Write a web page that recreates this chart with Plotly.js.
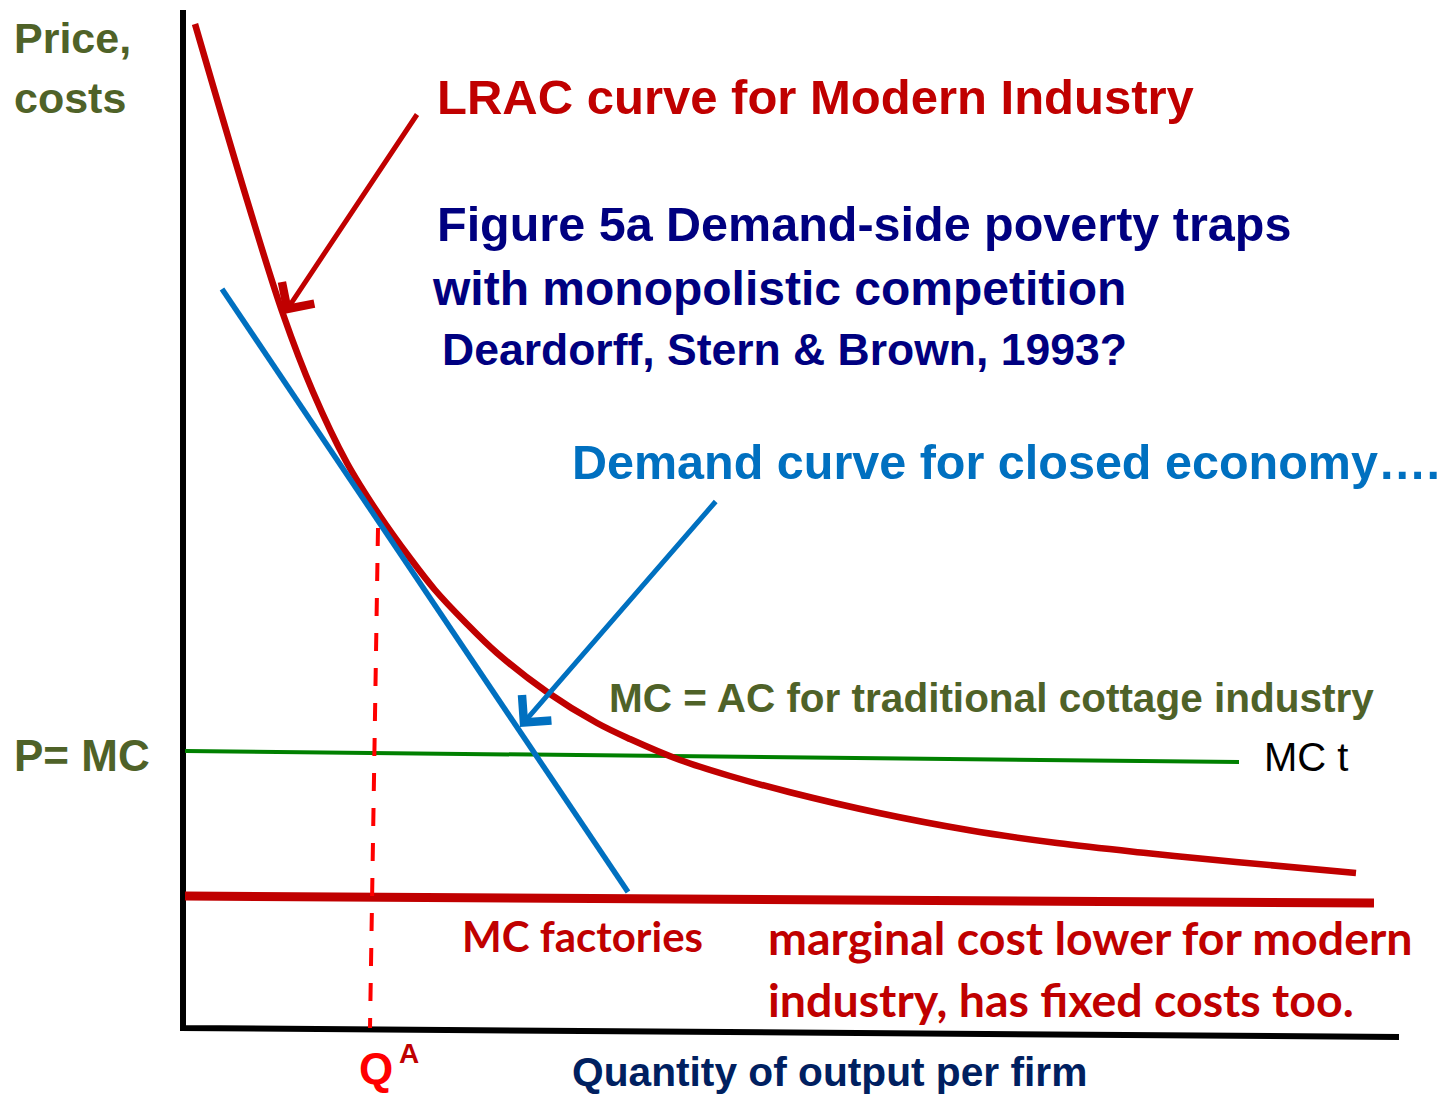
<!DOCTYPE html>
<html>
<head>
<meta charset="utf-8">
<script src="https://cdn.plot.ly/plotly-3.0.1.min.js"></script>
<style>
html,body{margin:0;padding:0;background:#fff;}
#chart{width:1441px;height:1095px;}
</style>
</head>
<body>
<div id="chart"></div>
<script>
// Diagram units: quantity (q) along the horizontal axis, price/cost (p) vertical
// Long-run average cost curve of the modern industry
const lracQ = [1.2, 6.4, 10.0, 13.0, 16.4, 19.7, 22.7, 25.2, 28.2, 31.4, 36.4, 41.4, 44.7, 49.7, 54.7, 60.6, 69.6, 78.5, 87.4, 96.3, 105.3, 117.3];
const lracP = [100.4, 82.8, 71.4, 63.6, 56.5, 51.2, 47.0, 43.8, 40.6, 37.5, 33.6, 30.5, 28.9, 26.8, 25.2, 23.6, 21.5, 19.8, 18.5, 17.5, 16.6, 15.5];
// Demand curve for closed economy
const demandQ = [3.9, 44.5];
const demandP = [73.9, 13.6];
// MC = AC for traditional cottage industry (MC t)
const mctQ = [0.2, 105.6];
const mctP = [27.7, 26.6];
// MC factories
const mcfQ = [0.2, 119.1];
const mcfP = [13.2, 12.5];
// Q^A dashed drop line
const qaQ = [19.5, 18.7];
const qaP = [50.0, 0.0];
// Axes
const axisQ = [0.0, 0.0, 121.6];
const axisP = [101.8, 0.0, -0.9];
// Arrows (tail -> tip)
const lracArrowTail = [23.5, 91.5];
const lracArrowTip = [10.1, 71.4];
const demandArrowTail = [53.4, 52.8];
const demandArrowTip = [33.7, 30.1];

const RED = '#C00000', BLUE = '#0070C0', OLIVE = '#4F6228', NAVY = '#000080';
const ARIAL = 'Liberation Sans, Arial, sans-serif';
const CAL = 'Lato, Carlito, Calibri, sans-serif';

const traces = [
  {x: axisQ, y: axisP, mode: 'lines', line: {color: '#000', width: 6}},
  {x: mctQ, y: mctP, mode: 'lines', line: {color: '#008000', width: 4}},
  {x: mcfQ, y: mcfP, mode: 'lines', line: {color: RED, width: 9}},
  {x: lracQ, y: lracP, mode: 'lines', line: {color: RED, width: 6.5, shape: 'spline', smoothing: 1}},
  {x: demandQ, y: demandP, mode: 'lines', line: {color: BLUE, width: 5.5}},
  {x: qaQ, y: qaP, mode: 'lines', line: {color: '#FF0000', width: 4, dash: '18px,17px'}}
];

function txt(x, y, text, size, color, family, weight) {
  return {x: x, y: y, xref: 'x', yref: 'y', text: text, showarrow: false,
    xanchor: 'left', yanchor: 'middle',
    font: {size: size, color: color, family: family, weight: weight || 'bold'}};
}
function arrow(tail, tip, color) {
  return {x: tip[0], y: tip[1], ax: tail[0], ay: tail[1], xref: 'x', yref: 'y',
    axref: 'x', ayref: 'y', text: '', showarrow: true, arrowhead: 4,
    arrowsize: 1.5, arrowwidth: 5, arrowcolor: color, standoff: 0, startstandoff: 0};
}

const annotations = [
  txt(-17.1, 99.0, 'Price,', 43, OLIVE, ARIAL),
  txt(-17.1, 93.0, 'costs', 43, OLIVE, ARIAL),
  txt(-17.1, 27.3, 'P= MC', 44, OLIVE, ARIAL),
  txt(25.2, 93.1, 'LRAC curve for Modern Industry', 49, RED, ARIAL),
  txt(25.2, 80.45, 'Figure 5a Demand-side poverty traps', 48.5, NAVY, ARIAL),
  txt(24.7, 74.0, 'with monopolistic competition', 48, NAVY, ARIAL),
  txt(25.7, 67.9, 'Deardorff, Stern &amp; Brown, 1993?', 44.5, NAVY, ARIAL),
  txt(38.7, 56.65, 'Demand curve for closed economy….', 48.5, BLUE, ARIAL),
  txt(42.4, 33.0, 'MC = AC for traditional cottage industry', 40.5, OLIVE, ARIAL),
  txt(107.9, 27.1, 'MC t', 40, '#000000', ARIAL, 'normal'),
  txt(27.7, 9.2, 'MC factories', 42, RED, CAL),
  txt(58.3, 9.1, 'marginal cost lower for modern', 46.5, RED, CAL),
  txt(58.3, 2.9, 'industry, has fixed costs too.', 46.5, RED, CAL),
  txt(17.4, -4.0, 'Q', 44, '#FF0000', ARIAL),
  txt(21.4, -2.5, 'A', 28, RED, ARIAL),
  txt(38.7, -4.4, 'Quantity of output per firm', 40.7, '#002060', ARIAL),
  arrow(lracArrowTail, lracArrowTip, RED),
  arrow(demandArrowTail, demandArrowTip, BLUE)
];

const layout = {
  width: 1441, height: 1095,
  margin: {l: 0, r: 0, t: 0, b: 0, pad: 0},
  paper_bgcolor: '#fff', plot_bgcolor: '#fff',
  showlegend: false,
  xaxis: {range: [-18.3, 125.8], visible: false, fixedrange: true},
  yaxis: {range: [-6.7, 102.8], visible: false, fixedrange: true},
  annotations: annotations
};

Plotly.newPlot('chart', traces, layout, {displayModeBar: false, staticPlot: true});
</script>
</body>
</html>
